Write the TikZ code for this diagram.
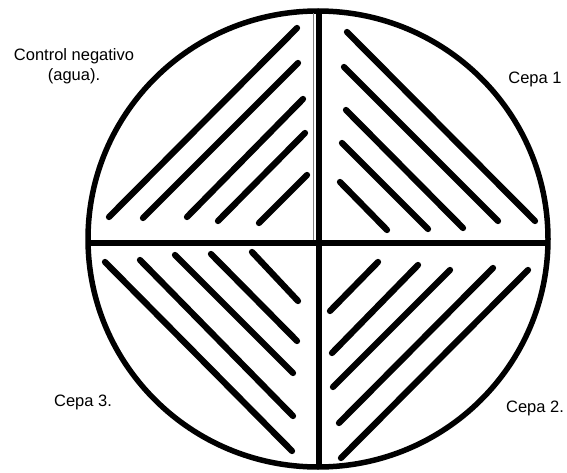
\documentclass[tikz,border=0pt]{standalone}
\usepackage{fontspec}
\setmainfont{Liberation Sans}
\usepackage{tikz}
\usetikzlibrary{positioning}

\begin{document}
\begin{tikzpicture}[x=1pt, y=-1pt, font=\fontsize{16.5}{19.5}\selectfont,
    rim/.style={line width=5.5pt},
    streak/.style={line width=6.3pt, line cap=round},
    lbl/.style={inner sep=0pt, align=center}]
    \useasboundingbox (0,0) rectangle (567,473);
    % plate and dividing lines
    \draw[rim] (318,239) ellipse [x radius=230, y radius=228];
    \draw[rim] (86,243) -- (548,243);
    \draw[rim] (319,9) -- (319,468);
    \draw[gray, line width=1pt] (313,13) -- (313,240);
    % control negativo (agua)
    \draw[streak] (109,217) -- (297,28)  (143,218) -- (298,63)  (187,217) -- (303,99)
                  (218,221) -- (305,133) (259,223) -- (307,175);
    % cepa 1
    \draw[streak] (347,32) -- (535,221)  (344,67) -- (498,221)  (346,110) -- (463,228)
                  (342,143) -- (428,229) (340,182) -- (387,230);
    % cepa 3
    \draw[streak] (105,262) -- (292,451) (140,260) -- (293,416) (175,255) -- (293,373)
                  (211,254) -- (297,341) (252,252) -- (298,301);
    % cepa 2
    \draw[streak] (330,311) -- (378,262) (332,353) -- (418,265) (333,387) -- (450,270)
                  (339,423) -- (493,268) (341,458) -- (528,270);
    % labels
    \node[lbl] (neg) at (74,66) {Control negativo\\(agua).};
    \node[lbl] (c1) at (535,79) {Cepa 1};
    \node[lbl] (c3) at (83,402) {Cepa 3.};
    \node[lbl] (c2) at (535,408) {Cepa 2.};
\end{tikzpicture}
\end{document}
